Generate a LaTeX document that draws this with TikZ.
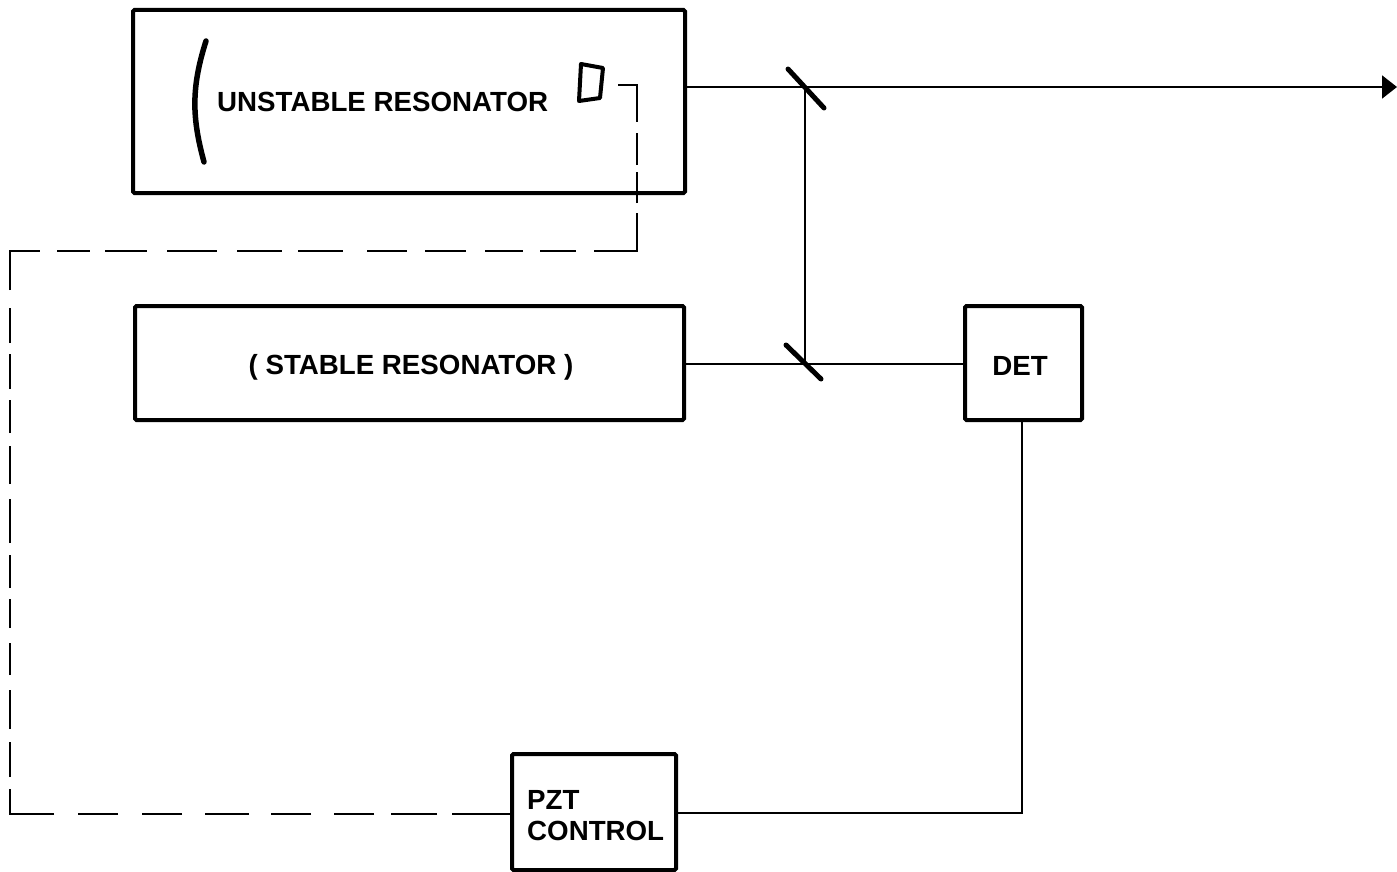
\documentclass[tikz,border=0pt]{standalone}
\usepackage{fontspec}
\setmainfont{Liberation Sans}
\usetikzlibrary{arrows.meta}
\tikzset{
  block/.style={draw=black,line width=4pt,rounded corners=1.5pt,inner sep=0pt,outer sep=0pt,anchor=north west},
  label/.style={inner sep=0pt,font=\bfseries\fontsize{27.7}{31}\selectfont,text=black},
  beam/.style={line width=2pt,draw=black},
  feedback/.style={line width=2pt,draw=black,
    dash pattern=on 60pt off 15pt on 46pt off 17pt on 40pt off 23pt on 40pt off 22pt on 44pt off 23pt on 40pt off 24pt on 40pt off 24pt on 69pt off 12pt on 35pt off 13pt on 39pt off 15pt on 32pt off 15pt on 29pt off 11pt on 33pt off 12pt on 44pt off 15pt on 38pt off 13pt on 33pt off 11pt on 35pt off 11pt on 35pt off 18pt on 69pt off 17pt on 33pt off 15pt on 42pt off 20pt on 50pt off 20pt on 45pt off 16pt on 45pt off 24pt on 40pt off 18pt on 41pt off 19pt on 38pt off 17pt on 36pt off 18pt on 81pt off 10pt on 31pt off 7pt on 32pt off 11pt on 80pt off 20pt},
  mirror/.style={line width=5pt,draw=black,line cap=round}
}
\begin{document}
\begin{tikzpicture}[x=1pt,y=-1pt]
\useasboundingbox (0,0) rectangle (1397,872);
\node[block,minimum width=552pt,minimum height=183pt] (unst) at (133,10) {};
\node[block,minimum width=549pt,minimum height=114pt] (stab) at (135,306) {};
\node[block,minimum width=117pt,minimum height=114pt] (det) at (965,306) {};
\node[block,minimum width=164pt,minimum height=116pt] (pzt) at (512,754) {};
\node[label,anchor=base west] (tu) at (217,112) {UNSTABLE RESONATOR};
\node[label,anchor=base] (ts) at (411,374) {( STABLE RESONATOR )};
\node[label,anchor=base] (td) at (1020,375) {DET};
\node[label,anchor=base west] (tp) at (527,809) {PZT};
\node[label,anchor=base west] (tc) at (527,840) {CONTROL};
\coordinate (bs) at (805,87);
\coordinate (bd) at (805,364);
\coordinate (tip) at (1397,87);
\coordinate (dc) at (1022,813);
\draw[beam,-{Triangle[length=15pt,width=23pt]}] (unst.east |- bs) -- (tip);
\draw[beam] (bs) -- (bd);
\draw[beam] (stab.east |- bd) -- (det.west |- bd);
\draw[beam] (dc |- det.south) -- (dc) -- (pzt.east |- dc);
\coordinate (m1a) at (788,69); \coordinate (m1b) at (824,108);
\coordinate (m2a) at (786,345); \coordinate (m2b) at (821,379);
\draw[mirror] (m1a) -- (m1b);
\draw[mirror] (m2a) -- (m2b);
\coordinate (c1) at (10,814);
\coordinate (c2) at (10,251);
\coordinate (c3) at (637,251);
\coordinate (c4) at (637,85);
\coordinate (c5) at (618,85);
\draw[feedback] (pzt.west |- c1) -- (c1) -- (c2) -- (c3) -- (c4) -- (c5);
\draw[line width=5.5pt,line cap=round,draw=black] (206,41) .. controls (191,88) and (192,118) .. (204,162);
\draw[line width=4pt,line join=round,draw=black] (581,64) -- (603,68) -- (600,98) -- (579,101) -- cycle;
\end{tikzpicture}
\end{document}
